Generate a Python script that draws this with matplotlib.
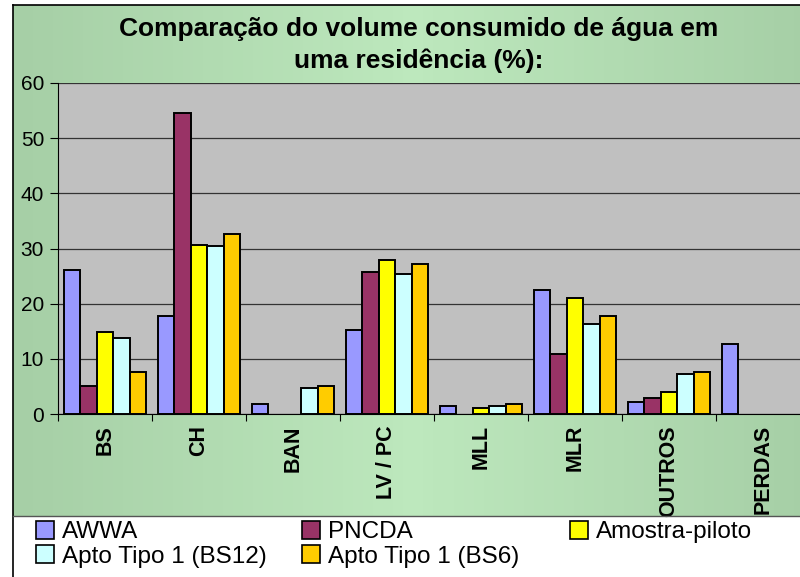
import numpy as np
import matplotlib
matplotlib.use("Agg")
from matplotlib import pyplot as plt
from matplotlib.patches import Patch
from matplotlib.lines import Line2D

plt.rcParams['font.family'] = ['Liberation Sans', 'DejaVu Sans']

title = "Comparação do volume consumido de água em\numa residência (%):"

categories = ["BS", "CH", "BAN", "LV / PC", "MLL", "MLR", "OUTROS", "PERDAS"]
series = ["AWWA", "PNCDA", "Amostra-piloto", "Apto Tipo 1 (BS12)", "Apto Tipo 1 (BS6)"]
awwa = [26.1, 17.8, 1.8, 15.2, 1.45, 22.5, 2.1, 12.7]
pncda = [5.1, 54.6, 0, 25.7, 0, 10.9, 2.9, 0]
amostra = [14.8, 30.7, 0, 28.0, 1.1, 21.0, 3.9, 0]
bs12 = [13.7, 30.4, 4.7, 25.4, 1.45, 16.3, 7.2, 0]
bs6 = [7.6, 32.6, 5.1, 27.2, 1.8, 17.8, 7.7, 0]
colors = ["#9999FF", "#993366", "#FFFF00", "#CCFFFF", "#FFCC00"]

W, H = 800, 577
fig = plt.figure(figsize=(W / 100, H / 100), dpi=100)

# green chart-area background with soft horizontal gradient
bg = fig.add_axes([13 / W, 1 - 516 / H, 1, (516 - 5) / H], zorder=0)
grad = np.concatenate([np.linspace(0, 1, 40), np.linspace(1, 0, 40)])
bg.imshow(grad[None, :], aspect="auto", extent=(0, 1, 0, 1),
          cmap=matplotlib.colors.LinearSegmentedColormap.from_list("g", ["#A6CFA6", "#BDE8BD"]))
bg.set_axis_off()

# frame lines
fig.add_artist(Line2D([13 / W, 13 / W], [0, 1 - 5 / H], color="black", lw=1.2))
fig.add_artist(Line2D([13 / W, 1], [1 - 5 / H, 1 - 5 / H], color="black", lw=1.2))
fig.add_artist(Line2D([13 / W, 1], [1 - 516 / H, 1 - 516 / H], color="#555555", lw=1))

ax = fig.add_axes([58 / W, 1 - 414 / H, 752 / W, 331 / H], zorder=1)
ax.set_facecolor("#C0C0C0")

x = np.arange(len(categories))
w = 0.175
for k, (vals, c) in enumerate(zip([awwa, pncda, amostra, bs12, bs6], colors)):
    v = np.array(vals, dtype=float)
    m = v > 0
    ax.bar(x[m] + (k - 2) * w, v[m], w, color=c, edgecolor="black", linewidth=1.4, zorder=3)

ax.set_xlim(-0.5, len(categories) - 0.5)
ax.set_ylim(0, 60)
ax.set_yticks(range(0, 61, 10))
ax.yaxis.grid(True, color="#333333", linewidth=0.9, zorder=0)
ax.tick_params(axis="y", labelsize=15, length=6, pad=4)

ax.set_xticks(np.arange(-0.5, len(categories), 1))
ax.set_xticklabels([])
ax.tick_params(axis="x", which="major", length=5)
ax.set_xticks(x, minor=True)
ax.set_xticklabels(categories, minor=True, rotation=90, fontsize=15.5, fontweight="bold")
ax.tick_params(axis="x", which="minor", length=0, pad=8)

for s in ["top", "right"]:
    ax.spines[s].set_visible(False)

fig.text(419 / W, 1 - 45 / H, title, ha="center", va="center", fontsize=19,
         fontweight="bold", linespacing=1.4)

# legend laid out like the spreadsheet's: three columns, row-major order
handles = [Patch(facecolor=c, edgecolor="black", linewidth=1.2) for c in colors]
columns = [([0, 3], 36), ([1, 4], 302), ([2], 570)]
for idx, xpos in columns:
    fig.legend([handles[i] for i in idx], [series[i] for i in idx],
               loc="upper left", bbox_to_anchor=(xpos / W, 1 - 521 / H),
               frameon=False, fontsize=17.5, handlelength=0.75, handleheight=0.75,
               handletextpad=0.3, labelspacing=0.08, borderpad=0, borderaxespad=0)

fig.savefig("out.png", dpi=100)
